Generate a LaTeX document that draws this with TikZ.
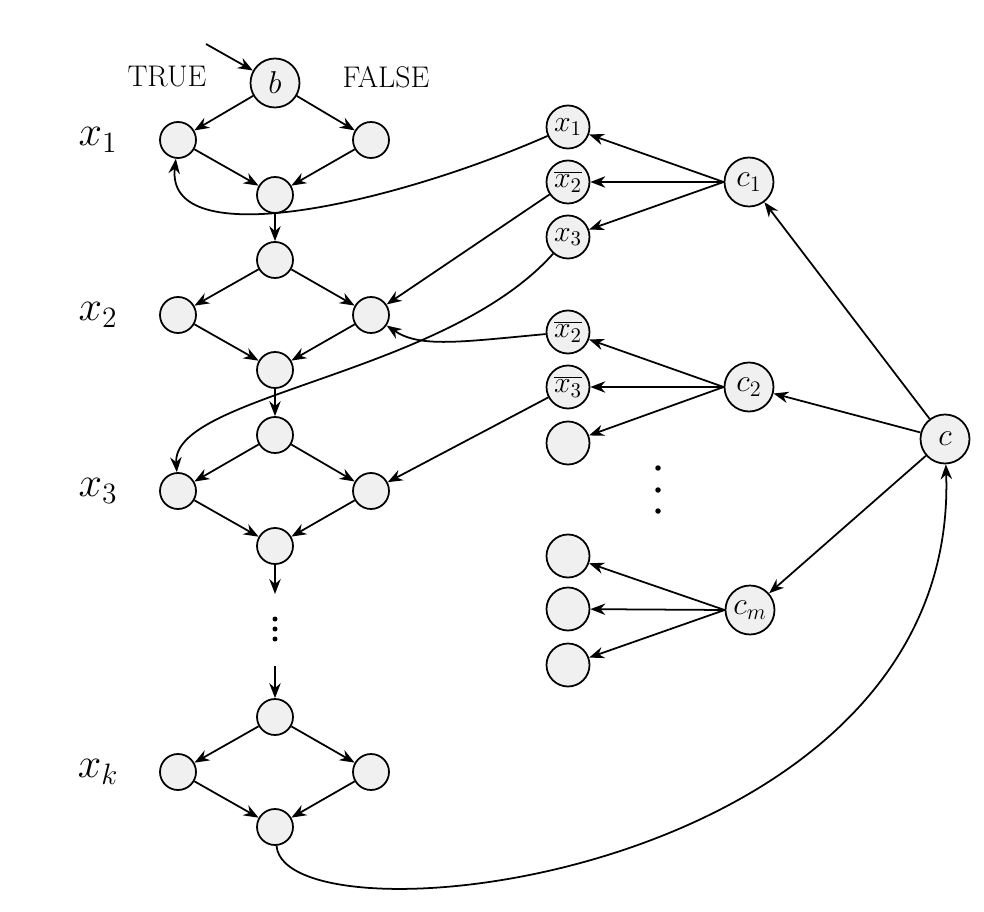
\RequirePackage{fix-cm}
\documentclass[tikz,border=0pt]{standalone}
\usetikzlibrary{arrows.meta}
\begin{document}
\begin{tikzpicture}[x=0.02cm,y=-0.02cm,
  st/.style={circle, draw, line width=1pt, fill=gray!12, minimum size=0.72cm, inner sep=0pt},
  lit/.style={st, minimum size=0.86cm, font=\fontsize{17}{20}\selectfont},
  big/.style={st, minimum size=0.98cm, font=\fontsize{18}{21}\selectfont},
  lab/.style={font=\fontsize{24}{28}\selectfont},
  tf/.style={font=\fontsize{17}{20}\selectfont},
  arr/.style={-{Stealth[length=8.5pt,width=6.5pt]}, line width=1pt},
  dotf/.style={fill=black}]
\useasboundingbox (0,0) rectangle (984,912);
% left column
\node[big] (b) at (275,83) {$b$};
\node[tf] (tru) at (167,77) {TRUE};
\node[tf] (fal) at (386,77) {FALSE};
\coordinate (in) at (206,44);
\node[st] (t1) at (178,140) {};
\node[st] (f1) at (371,140) {};
\node[st] (m1) at (275,195) {};
\node[st] (a2) at (275,260) {};
\node[st] (t2) at (178,315) {};
\node[st] (f2) at (371,315) {};
\node[st] (m2) at (275,370) {};
\node[st] (a3) at (275,435) {};
\node[st] (t3) at (178,491) {};
\node[st] (f3) at (371,491) {};
\node[st] (m3) at (275,546) {};
\coordinate (d1) at (275,594);
\coordinate (d2) at (275,666);
\node[st] (ak) at (275,717) {};
\node[st] (tk) at (178,772) {};
\node[st] (fk) at (371,772) {};
\node[st] (mk) at (275,827) {};
\node[lab] (lx1) at (98,140) {$x_1$};
\node[lab] (lx2) at (98,315) {$x_2$};
\node[lab] (lx3) at (98,491) {$x_3$};
\node[lab] (lxk) at (98,772) {$x_k$};
\foreach \yy in {619,629,639} \fill[dotf] (275,\yy) circle[radius=0.05cm];
% literals
\node[lit] (l11) at (568,127) {$x_1$};
\node[lit] (l12) at (568,182) {$\overline{x_2}$};
\node[lit] (l13) at (568,237) {$x_3$};
\node[lit] (l21) at (568,332) {$\overline{x_2}$};
\node[lit] (l22) at (568,387) {$\overline{x_3}$};
\node[lit] (l23) at (568,443) {};
\node[lit] (lm1) at (568,556) {};
\node[lit] (lm2) at (568,609) {};
\node[lit] (lm3) at (568,665) {};
\node[big] (c1) at (749,182) {$c_1$};
\node[big] (c2) at (749,387) {$c_2$};
\node[big] (cm) at (750,610) {$c_m$};
\node[big] (c) at (945,439) {$c$};
\foreach \yy in {468,490,511} \fill[dotf] (658,\yy) circle[radius=0.055cm];
% left column edges
\draw[arr] (in) -- (b);
\draw[arr] (b) -- (t1);
\draw[arr] (b) -- (f1);
\draw[arr] (t1) -- (m1);
\draw[arr] (f1) -- (m1);
\draw[arr] (m1) -- (a2);
\draw[arr] (a2) -- (t2);
\draw[arr] (a2) -- (f2);
\draw[arr] (t2) -- (m2);
\draw[arr] (f2) -- (m2);
\draw[arr] (m2) -- (a3);
\draw[arr] (a3) -- (t3);
\draw[arr] (a3) -- (f3);
\draw[arr] (t3) -- (m3);
\draw[arr] (f3) -- (m3);
\draw[arr] (m3) -- (d1);
\draw[arr] (d2) -- (ak);
\draw[arr] (ak) -- (tk);
\draw[arr] (ak) -- (fk);
\draw[arr] (tk) -- (mk);
\draw[arr] (fk) -- (mk);
% clause edges
\draw[arr] (c1.west) -- (l11);
\draw[arr] (c1.west) -- (l12);
\draw[arr] (c1.west) -- (l13);
\draw[arr] (c2.west) -- (l21);
\draw[arr] (c2.west) -- (l22);
\draw[arr] (c2.west) -- (l23);
\draw[arr] (cm.west) -- (lm1);
\draw[arr] (cm.west) -- (lm2);
\draw[arr] (cm.west) -- (lm3);
\draw[arr] (c) -- (c1);
\draw[arr] (c) -- (c2);
\draw[arr] (c) -- (cm);
% literal to variable gadgets
\draw[arr] (l11) .. controls (390,205) and (165,255) .. (t1);
\draw[arr] (l13) .. controls (445,375) and (172,395) .. (t3);
\draw[arr] (l12) -- (f2);
\draw[arr] (l21) .. controls (460,342) and (420,348) .. (f2);
\draw[arr] (l22) -- (f3);
\draw[arr] (mk) .. controls (285,950) and (960,880) .. (c);
\end{tikzpicture}
\end{document}
